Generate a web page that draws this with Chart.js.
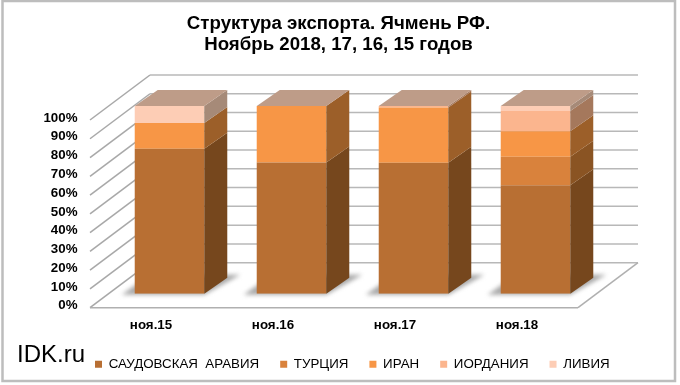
<!DOCTYPE html>
<html>
<head>
<meta charset="utf-8">
<style>
  html, body { margin: 0; padding: 0; background: #fff; }
  #wrap { width: 680px; height: 385px; position: relative; }
</style>
<script src="https://cdn.jsdelivr.net/npm/chart.js@4"></script>
</head>
<body>
<div id="wrap"><canvas id="c" width="680" height="385"></canvas></div>
<script>
const categories = ['ноя.15', 'ноя.16', 'ноя.17', 'ноя.18'];
const seriesNames = ['САУДОВСКАЯ  АРАВИЯ', 'ТУРЦИЯ', 'ИРАН', 'ИОРДАНИЯ', 'ЛИВИЯ'];
const saudi = [77.2, 69.9, 69.8, 57.8];
const turkey = [0, 0, 0, 15.1];
const iran = [13.7, 30.1, 29.4, 13.7];
const jordan = [0, 0, 0.8, 10.8];
const libya = [9.1, 0, 0, 2.6];
const tickMax = 100;
const tickStep = 10;

const faceColors = ['#B86F33', '#D9823C', '#F79646', '#FBB58E', '#FDCDB5'];
const sideColors = ['#76471D', '#8A5423', '#9C5F29', '#A5785C', '#A68A78'];
const topColor = '#BE9C88';

// pseudo-3D: the walls sit behind the bars, the bars stand inside the floor
const WALL_DX = 60, WALL_DY = 45;     // floor depth
const BAR_DX = 23, BAR_DY = 16;       // bar depth
const INSET_X = 18.5, INSET_Y = 14;   // front of bar vs front of floor

function line(ctx, x1, y1, x2, y2) {
  ctx.beginPath(); ctx.moveTo(x1, y1); ctx.lineTo(x2, y2); ctx.stroke();
}

function poly(ctx, pts, fill) {
  ctx.beginPath();
  pts.forEach((p, i) => i ? ctx.lineTo(p[0], p[1]) : ctx.moveTo(p[0], p[1]));
  ctx.closePath();
  ctx.fillStyle = fill;
  ctx.fill();
}

const box3d = {
  id: 'box3d',
  afterLayout(chart) {
    // title is centred on the frame, legend starts right of the IDK.ru mark
    chart.titleBlock.left = 0;
    chart.titleBlock.right = 677;
    chart.legend.left = 74;
    chart.legend.right = 680;
  },
  beforeDraw(chart) {
    const ctx = chart.ctx;
    ctx.save();
    ctx.fillStyle = '#fff';
    ctx.fillRect(0, 0, 680, 385);
    ctx.strokeStyle = '#BDBDBD';
    ctx.lineWidth = 2.5;
    ctx.strokeRect(2.5, 1, 672.5, 380);
    ctx.fillStyle = '#000';
    ctx.font = '24px "Liberation Sans"';
    ctx.textBaseline = 'alphabetic';
    ctx.fillText('IDK.ru', 17, 362);
    ctx.restore();
  },
  beforeDatasetsDraw(chart) {
    const { ctx, chartArea, scales } = chart;
    const left = chartArea.left - INSET_X, right = chartArea.right - INSET_X;
    ctx.save();
    ctx.lineWidth = 1.5;
    for (let v = 0; v <= tickMax; v += tickStep) {
      const y = scales.y.getPixelForValue(v) + INSET_Y;
      ctx.strokeStyle = '#A8A8A8';
      line(ctx, left, y, left + WALL_DX, y - WALL_DY);
      ctx.strokeStyle = '#B8B8B8';
      line(ctx, left + WALL_DX, y - WALL_DY, right + WALL_DX, y - WALL_DY);
    }
    const y0 = scales.y.getPixelForValue(0) + INSET_Y;
    ctx.strokeStyle = '#B0B0B0';
    line(ctx, left, y0, right, y0);
    line(ctx, right, y0, right + WALL_DX, y0 - WALL_DY);

    // soft shadow on the floor under each bar
    ctx.filter = 'blur(2px)';
    chart.getDatasetMeta(0).data.forEach(bar => {
      const l = bar.x - bar.width / 2, r = bar.x + bar.width / 2, b = bar.base;
      poly(ctx, [[l - 13, b + 1], [r, b + 1], [r + 36, b - 19], [l + 15, b - 19]], '#A9A9A9');
    });
    ctx.restore();
  },
  afterDatasetsDraw(chart) {
    const ctx = chart.ctx;
    ctx.save();
    categories.forEach((_, i) => {
      let topBar = null;
      chart.data.datasets.forEach((ds, d) => {
        if (!ds.data[i]) return;
        const bar = chart.getDatasetMeta(d).data[i];
        const r = bar.x + bar.width / 2;
        poly(ctx, [[r, bar.y], [r + BAR_DX, bar.y - BAR_DY], [r + BAR_DX, bar.base - BAR_DY], [r, bar.base]], sideColors[d]);
        topBar = bar;
      });
      const l = topBar.x - topBar.width / 2, r = topBar.x + topBar.width / 2, t = topBar.y;
      poly(ctx, [[l, t], [l + BAR_DX, t - BAR_DY], [r + BAR_DX, t - BAR_DY], [r, t]], topColor);
    });
    ctx.restore();
  }
};

const allValues = [saudi, turkey, iran, jordan, libya];

new Chart(document.getElementById('c'), {
  type: 'bar',
  data: {
    labels: categories,
    datasets: seriesNames.map((name, i) => ({
      label: name,
      data: allValues[i],
      backgroundColor: faceColors[i],
      borderWidth: 0,
      barPercentage: 1,
      categoryPercentage: 0.57
    }))
  },
  plugins: [box3d],
  options: {
    responsive: false,
    animation: false,
    layout: { padding: { left: 0, right: 83.5, top: 0, bottom: 4 } },
    scales: {
      x: {
        stacked: true,
        grid: { display: false },
        border: { display: false },
        ticks: { color: '#000', font: { family: '"Liberation Sans"', size: 13.33, weight: 'bold' }, padding: 16, labelOffset: -INSET_X, maxRotation: 0 },
        afterFit(s) { s.height = 43; }
      },
      y: {
        stacked: true,
        min: 0,
        max: tickMax,
        grid: { display: false },
        border: { display: false },
        ticks: {
          stepSize: tickStep,
          autoSkip: false,
          color: '#000',
          font: { family: '"Liberation Sans"', size: 13.33, weight: 'bold' },
          padding: 23,
          labelOffset: 12,
          callback: v => v + '%'
        },
        afterFit(s) { s.width = 108.5; }
      }
    },
    plugins: {
      tooltip: { enabled: false },
      title: {
        display: true,
        text: ['Структура экспорта. Ячмень РФ.', 'Ноябрь 2018, 17, 16, 15 годов'],
        color: '#000',
        font: { family: '"Liberation Sans"', size: 18.67, weight: 'bold', lineHeight: 1.125 },
        padding: { top: 13.5, bottom: 50.5 }
      },
      legend: {
        position: 'bottom',
        align: 'start',
        labels: {
          color: '#000',
          font: { family: '"Liberation Sans"', size: 13.33 },
          boxWidth: 7,
          boxHeight: 7,
          padding: 21
        }
      }
    }
  }
});
</script>
</body>
</html>
